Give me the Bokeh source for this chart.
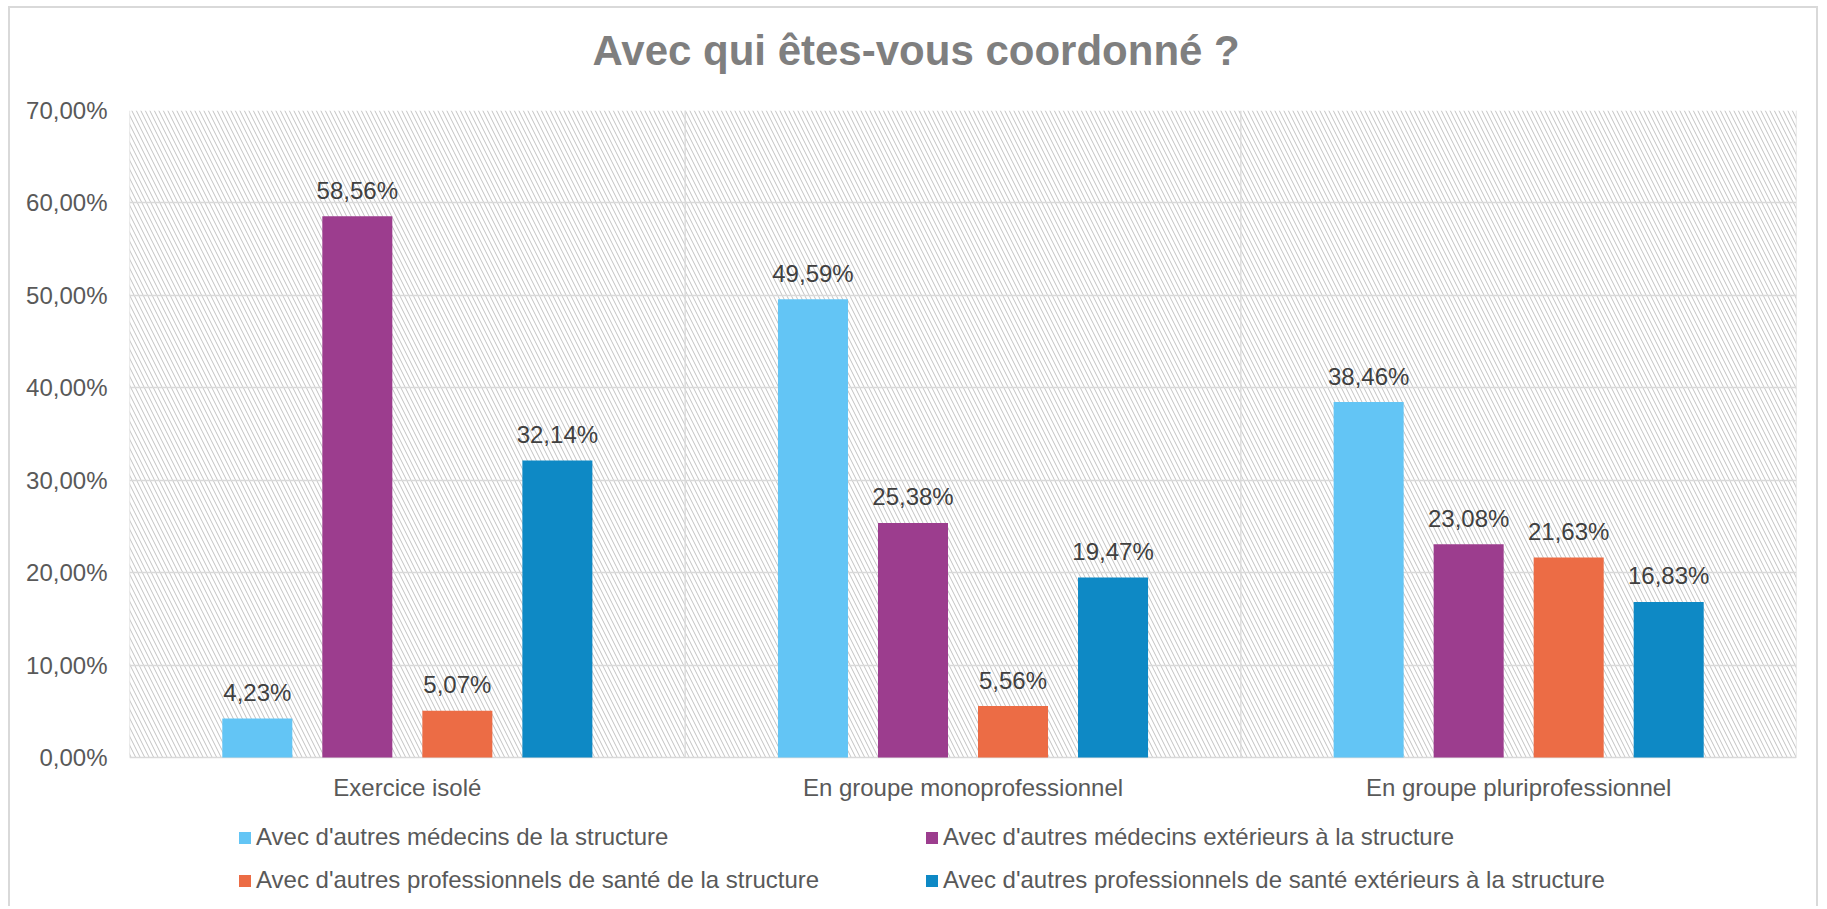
from bokeh.plotting import figure
from bokeh.models import (Range1d, FactorRange, FixedTicker, CustomJSTickFormatter,
                          BoxAnnotation, Legend, LegendItem, ColumnDataSource, Title)
from bokeh.core.properties import value
from bokeh.transform import dodge
from bokeh.embed import file_html
from bokeh.resources import INLINE

# ---------------- data ----------------
categories = ["Exercice isolé", "En groupe monoprofessionnel", "En groupe pluriprofessionnel"]
series_names = [
    "Avec d'autres médecins de la structure",
    "Avec d'autres médecins extérieurs à la structure",
    "Avec d'autres professionnels de santé de la structure",
    "Avec d'autres professionnels de santé extérieurs à la structure",
]
medecins_structure = [4.23, 49.59, 38.46]
medecins_exterieurs = [58.56, 25.38, 23.08]
pros_structure = [5.07, 5.56, 21.63]
pros_exterieurs = [32.14, 19.47, 16.83]
y_ticks = [0, 10, 20, 30, 40, 50, 60, 70]
y_max = 70

series_values = [medecins_structure, medecins_exterieurs, pros_structure, pros_exterieurs]
colors = ["#63C5F5", "#9C3D8E", "#EC6C45", "#0E89C5"]
offsets = [-0.27, -0.09, 0.09, 0.27]

FONT = "Liberation Sans"
GRID = "#d9d9d9"

# frame spans from the plot top down to the bottom of the chart so the legend fits inside;
# value axis: 0 at 757px, 70 at 110px (frame 110..908)
px_per_unit = (757 - 110) / y_max
y_start = -(908 - 757) / px_per_unit

p = figure(
    x_range=FactorRange(*categories), y_range=Range1d(y_start, y_max),
    width=1810, height=900, output_backend="svg", toolbar_location=None,
    title=None, x_axis_location=None,
    min_border_left=119, min_border_right=24, min_border_top=102, min_border_bottom=0,
    background_fill_color="white", border_fill_color="white",
)
p.styles = {"margin-left": "8px", "margin-top": "6px",
            "border-top": "2px solid #d9d9d9", "border-left": "2px solid #d9d9d9",
            "border-right": "2px solid #d9d9d9"}

# title (spacer panel next to the frame, main title above it)
p.add_layout(Title(text=" ", text_font_size="2px", standoff=28), "above")
p.add_layout(Title(text="Avec qui êtes-vous coordonné ?", align="left", offset=463,
                   standoff=10, text_font=FONT, text_font_size="42px",
                   text_font_style="bold", text_color="#7f7f7f"), "above")

# hatched plot area
p.add_layout(BoxAnnotation(bottom=0, top=y_max, fill_alpha=0, line_alpha=0,
                           hatch_pattern="\\", hatch_color="#c2c2c2", hatch_scale=9,
                           hatch_weight=1, level="image"))

# grid & outline
p.ygrid.ticker = FixedTicker(ticks=y_ticks)
p.ygrid.grid_line_color = GRID
p.ygrid.grid_line_width = 1.3
p.xgrid.visible = False
p.outline_line_color = None
p.segment(x0=[0, 1, 2, 3], y0=0, x1=[0, 1, 2, 3], y1=y_max,
          line_color=GRID, line_width=1.3, level="underlay")

# value axis
p.yaxis.ticker = FixedTicker(ticks=y_ticks)
p.yaxis.formatter = CustomJSTickFormatter(code="return tick.toFixed(2).replace('.', ',') + '%';")
p.yaxis.axis_line_color = None
p.yaxis.major_tick_line_color = None
p.yaxis.minor_tick_line_color = None
p.yaxis.major_label_standoff = 16
p.yaxis.major_label_text_font = FONT
p.yaxis.major_label_text_font_size = "24px"
p.yaxis.major_label_text_color = "#595959"

# category labels below the 0 line
cat_src = ColumnDataSource(dict(cat=categories, y=[0] * len(categories)))
p.text(x="cat", y="y", text="cat", source=cat_src, text_align="center",
       text_baseline="top", y_offset=16, text_font=value(FONT),
       text_font_size="24px", text_color="#595959")

renderers = []
for vals, col, off in zip(series_values, colors, offsets):
    src = ColumnDataSource(dict(
        cat=categories, v=vals,
        lbl=[f"{v:.2f}".replace(".", ",") + "%" for v in vals],
    ))
    r = p.vbar(x=dodge("cat", off, range=p.x_range), top="v", width=0.126,
               source=src, fill_color=col, line_color=None)
    renderers.append(r)
    p.text(x=dodge("cat", off, range=p.x_range), y="v", text="lbl", source=src,
           text_align="center", text_baseline="alphabetic", y_offset=-26,
           text_font=value(FONT), text_font_size="24px", text_color="#404040")

def make_legend(items, x):
    return Legend(items=items, location=(x, 14), orientation="vertical",
                  padding=0, margin=0, border_line_color=None, background_fill_alpha=0,
                  glyph_width=15, glyph_height=15, label_standoff=4, label_height=28,
                  spacing=15, label_text_font=FONT, label_text_font_size="24px",
                  label_text_color="#595959", label_text_baseline="middle")

leg1 = make_legend([LegendItem(label=series_names[0], renderers=[renderers[0]]),
                    LegendItem(label=series_names[2], renderers=[renderers[2]])], 108)
leg2 = make_legend([LegendItem(label=series_names[1], renderers=[renderers[1]]),
                    LegendItem(label=series_names[3], renderers=[renderers[3]])], 795)
p.add_layout(leg1, "center")
p.add_layout(leg2, "center")

open("out.html", "w").write(file_html(p, INLINE))
